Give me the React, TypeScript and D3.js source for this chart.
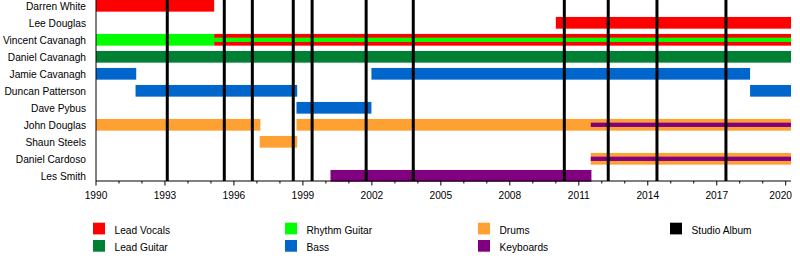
import React from "react";
import * as d3 from "d3";

// Band members, top to bottom
const members = [
  "Darren White",
  "Lee Douglas",
  "Vincent Cavanagh",
  "Daniel Cavanagh",
  "Jamie Cavanagh",
  "Duncan Patterson",
  "Dave Pybus",
  "John Douglas",
  "Shaun Steels",
  "Daniel Cardoso",
  "Les Smith",
];

// Roles and their colours (legend order, column-major)
const roles = ["Lead Vocals", "Lead Guitar", "Rhythm Guitar", "Bass", "Drums", "Keyboards", "Studio Album"];
const roleColors = ["#ff0000", "#008033", "#00ff00", "#0066cc", "#ffa033", "#800080", "#000000"];

// Main membership periods: [member, role, from, to] (decimal years)
const periods: [string, string, number, number][] = [
  ["Darren White", "Lead Vocals", 1990, 1995.14],
  ["Lee Douglas", "Lead Vocals", 2010.0, 2020.23],
  ["Vincent Cavanagh", "Rhythm Guitar", 1990, 1995.14],
  ["Vincent Cavanagh", "Lead Vocals", 1995.14, 2020.23],
  ["Daniel Cavanagh", "Lead Guitar", 1990, 2020.23],
  ["Jamie Cavanagh", "Bass", 1990, 1991.75],
  ["Jamie Cavanagh", "Bass", 2001.98, 2018.45],
  ["Duncan Patterson", "Bass", 1991.72, 1998.75],
  ["Duncan Patterson", "Bass", 2018.45, 2020.23],
  ["Dave Pybus", "Bass", 1998.72, 2001.98],
  ["John Douglas", "Drums", 1990, 1997.15],
  ["John Douglas", "Drums", 1998.72, 2020.23],
  ["Shaun Steels", "Drums", 1997.12, 1998.75],
  ["Daniel Cardoso", "Drums", 2011.52, 2020.23],
  ["Les Smith", "Keyboards", 2000.2, 2011.55],
];

// Secondary roles drawn as thin stripes inside the main bar
const stripes: [string, string, number, number][] = [
  ["Vincent Cavanagh", "Rhythm Guitar", 1995.14, 2020.23],
  ["John Douglas", "Keyboards", 2011.52, 2020.23],
  ["Daniel Cardoso", "Keyboards", 2011.52, 2020.23],
];

// Studio album release dates
const albums = [1993.1, 1995.58, 1996.8, 1998.58, 1999.4, 2001.75, 2003.8, 2010.37, 2012.28, 2014.4, 2017.4];

const startYear = 1990;
const endYear = 2020.23;
const tickYears = d3.range(1990, 2021, 1);
const labelYears = d3.range(1990, 2021, 3);

const W = 800;
const H = 280;
const FONT = "'Liberation Sans', Arial, sans-serif";

export default function App() {
  const x = d3.scaleLinear().domain([startYear, endYear]).range([96, 791]);
  const y = d3.scalePoint<string>().domain(members).range([5.8, 175.8]);
  const color = d3.scaleOrdinal<string, string>().domain(roles).range(roleColors);
  const axisY = 181;
  const barH = 11.7;
  const stripeH = 4.3;

  const legendCols = [93, 285, 478, 670];
  const legendRows = [222.7, 240];
  const fs = 10.2;

  return (
    <div style={{ position: "absolute", left: 0, top: 0 }}>
      <svg width={W} height={H} style={{ display: "block", background: "#fff" }} fontFamily={FONT}>
        {/* member names */}
        {members.map((m) => (
          <text key={m} x={86} y={(y(m) as number) + 4.2} textAnchor="end" fontSize={fs} fill="#000">
            {m}
          </text>
        ))}

        {/* membership bars */}
        {periods.map(([m, r, a, b], i) => (
          <rect
            key={"p" + i}
            x={x(a)}
            y={(y(m) as number) - barH / 2}
            width={x(b) - x(a)}
            height={barH}
            fill={color(r)}
          />
        ))}
        {stripes.map(([m, r, a, b], i) => (
          <rect
            key={"s" + i}
            x={x(a)}
            y={(y(m) as number) - stripeH / 2}
            width={x(b) - x(a)}
            height={stripeH}
            fill={color(r)}
          />
        ))}

        {/* studio albums */}
        {albums.map((a, i) => (
          <line key={"a" + i} x1={x(a)} x2={x(a)} y1={0} y2={axisY} stroke="#000" strokeWidth={3} />
        ))}

        {/* axes */}
        <line x1={x(startYear)} x2={x(startYear)} y1={0} y2={axisY} stroke="#000" strokeWidth={1} />
        <line x1={x(startYear)} x2={x(endYear)} y1={axisY} y2={axisY} stroke="#000" strokeWidth={1} />
        {tickYears.map((t) => {
          const major = (t - 1990) % 3 === 0;
          return (
            <line
              key={"t" + t}
              x1={x(t)}
              x2={x(t)}
              y1={axisY}
              y2={axisY + (major ? 4.5 : 2.5)}
              stroke="#000"
              strokeWidth={1}
            />
          );
        })}
        {labelYears.map((t) => {
          // keep the last label inside the plot's right edge
          const last = x(t) + 11 > x(endYear);
          return (
            <text
              key={"l" + t}
              x={last ? x(endYear) + 1 : x(t)}
              y={199}
              textAnchor={last ? "end" : "middle"}
              fontSize={fs}
              fill="#000"
            >
              {t}
            </text>
          );
        })}

        {/* legend */}
        {roles.map((r, i) => {
          const lx = legendCols[Math.floor(i / 2)];
          const ly = legendRows[i % 2];
          return (
            <g key={"g" + r}>
              <rect x={lx} y={ly} width={12} height={11.7} fill={color(r)} />
              <text x={lx + 21.5} y={ly + 11.3} fontSize={fs} fill="#000">
                {r}
              </text>
            </g>
          );
        })}
      </svg>
    </div>
  );
}
